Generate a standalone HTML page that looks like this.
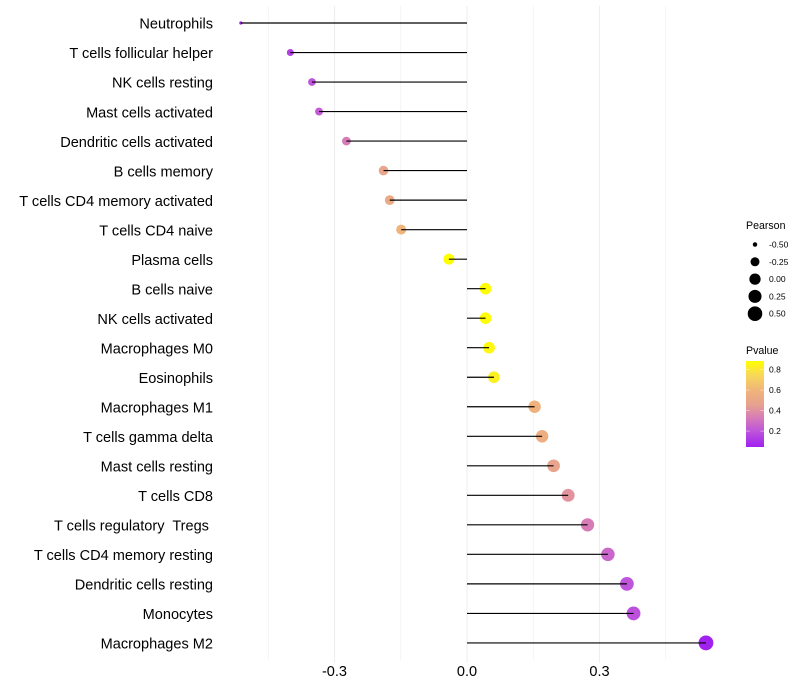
<!DOCTYPE html>
<html>
<head>
<meta charset="utf-8">
<title>Lollipop chart</title>
<style>
html,body{margin:0;padding:0;background:#fff;width:800px;height:700px;overflow:hidden}
svg{display:block}
text{font-family:"Liberation Sans",Arial,sans-serif}
</style>
</head>
<body>
<svg id="chart" width="800" height="700" viewBox="0 0 800 700" xmlns="http://www.w3.org/2000/svg">
<defs>
<linearGradient id="pvalue-gradient" x1="0" y1="1" x2="0" y2="0"></linearGradient>
</defs>
<g id="grid"></g>
<g id="lines"></g>
<g id="ylabels"></g>
<g id="xlabels"></g>
<g id="size-legend"></g>
<g id="color-legend"></g>
</svg>
<script>
const categories = ["Neutrophils","T cells follicular helper","NK cells resting","Mast cells activated","Dendritic cells activated","B cells memory","T cells CD4 memory activated","T cells CD4 naive","Plasma cells","B cells naive","NK cells activated","Macrophages M0","Eosinophils","Macrophages M1","T cells gamma delta","Mast cells resting","T cells CD8","T cells regulatory  Tregs ","T cells CD4 memory resting","Dendritic cells resting","Monocytes","Macrophages M2"];
const pearson = [-0.512,-0.400,-0.351,-0.335,-0.273,-0.189,-0.175,-0.149,-0.041,0.042,0.042,0.050,0.061,0.153,0.170,0.196,0.229,0.273,0.319,0.362,0.377,0.541];
const pvalue = [0.05,0.14,0.20,0.22,0.33,0.49,0.52,0.59,0.88,0.87,0.87,0.86,0.83,0.58,0.55,0.48,0.41,0.33,0.26,0.20,0.19,0.05];
const xTicks = [-0.3,0,0.3];
const xMinor = [-0.45,-0.15,0.15,0.45];
const sizeLegendValues = [-0.5,-0.25,0,0.25,0.5];
const colorLegendValues = [0.2,0.4,0.6,0.8];
const colorStopP = [0.045,0.2,0.33,0.45,0.6,0.75,0.88];
const colorStopHex = ["#A020F0","#BE55DA","#D67BB8","#E6A090","#F0B57A","#F8D858","#FFFF00"];

const NS = "http://www.w3.org/2000/svg";
const xScale = v => 467 + v * 441.7;
const yScale = i => 23 + i * 29.52;
const pToLegendY = p => 451.6 - p * 102.5;
function radius(v){
  const t = Math.max(0, Math.min(1, (v + 0.512) / (0.541 + 0.512)));
  return 1.6 + 5.8 * Math.sqrt(t);
}
function hexToRgb(h){ return [1,3,5].map(i => parseInt(h.slice(i,i+2),16)); }
function colorFor(p){
  if (p <= colorStopP[0]) return colorStopHex[0];
  for (let i = 1; i < colorStopP.length; i++){
    if (p <= colorStopP[i]){
      const t = (p - colorStopP[i-1]) / (colorStopP[i] - colorStopP[i-1]);
      const a = hexToRgb(colorStopHex[i-1]), b = hexToRgb(colorStopHex[i]);
      return "rgb(" + a.map((c,k) => Math.round(c + (b[k]-c)*t)).join(",") + ")";
    }
  }
  return colorStopHex[colorStopHex.length-1];
}
function make(tag, attrs, parent, txt){
  const el = document.createElementNS(NS, tag);
  for (const k in attrs) el.setAttribute(k, attrs[k]);
  if (txt !== undefined) el.textContent = txt;
  parent.appendChild(el);
  return el;
}

const grid = document.getElementById("grid");
xMinor.forEach(v => {
  const el = make("line",{x1:xScale(v),x2:xScale(v),y1:6,y2:660,stroke:"#efefef","stroke-width":0.6},grid);
  
  
});
xTicks.forEach(v => {
  const el = make("line",{x1:xScale(v),x2:xScale(v),y1:6,y2:663,stroke:"#eeeeee","stroke-width":1.1},grid);
  
  
});

const marks = document.getElementById("lines");
categories.forEach((c,i) => {
  const v = pearson[i], y = yScale(i);
  const pt = make("circle",{cx:xScale(v),cy:y,r:radius(v),fill:colorFor(pvalue[i])},marks);
  
  
  const ln = make("line",{x1:xScale(v),x2:xScale(0),y1:y,y2:y,stroke:"#000","stroke-width":1.15},marks);
  
  
});

const yl = document.getElementById("ylabels");
categories.forEach((c,i) => {
  const t = make("text",{x:213,y:yScale(i)+5.7,"text-anchor":"end","font-size":14.55,fill:"#000"},yl,c);
  t.style.whiteSpace = "pre";
  
  
});

const xl = document.getElementById("xlabels");
xTicks.forEach(v => {
  const t = make("text",{x:xScale(v),y:676,"text-anchor":"middle","font-size":14.55,fill:"#000"},xl,v.toFixed(1));
  
  
});

const sl = document.getElementById("size-legend");
const st = make("text",{x:746,y:229,"font-size":10.6,fill:"#000"},sl,"Pearson");


sizeLegendValues.forEach((v,i) => {
  const y = 244.5 + i * 17.3;
  const d = make("circle",{cx:755,cy:y,r:radius(v),fill:"#000"},sl);
  
  
  const t = make("text",{x:769,y:y+3,"font-size":8.5,fill:"#000"},sl,v.toFixed(2));
  
  
});

const grad = document.getElementById("pvalue-gradient");
const barTop = 361, barBottom = 447;
const pTop = (451.6 - barTop) / 102.5, pBottom = (451.6 - barBottom) / 102.5;
colorStopP.forEach((p,i) => {
  make("stop",{offset:((p - pBottom)/(pTop - pBottom)*100).toFixed(1)+"%","stop-color":colorStopHex[i]},grad);
});
const cl = document.getElementById("color-legend");
const ct = make("text",{x:746,y:354,"font-size":10.6,fill:"#000"},cl,"Pvalue");


const bar = make("rect",{x:746,y:barTop,width:18,height:barBottom-barTop,fill:"url(#pvalue-gradient)"},cl);


colorLegendValues.forEach(p => {
  const y = pToLegendY(p);
  [[746,749.6],[760.4,764]].forEach(s => {
    const tk = make("line",{x1:s[0],x2:s[1],y1:y,y2:y,stroke:"#fff","stroke-opacity":0.6,"stroke-width":0.7},cl);
    
    
  });
  const t = make("text",{x:769,y:y+3,"font-size":8.5,fill:"#000"},cl,p.toFixed(1));
  
  
});
</script>
</body>
</html>
